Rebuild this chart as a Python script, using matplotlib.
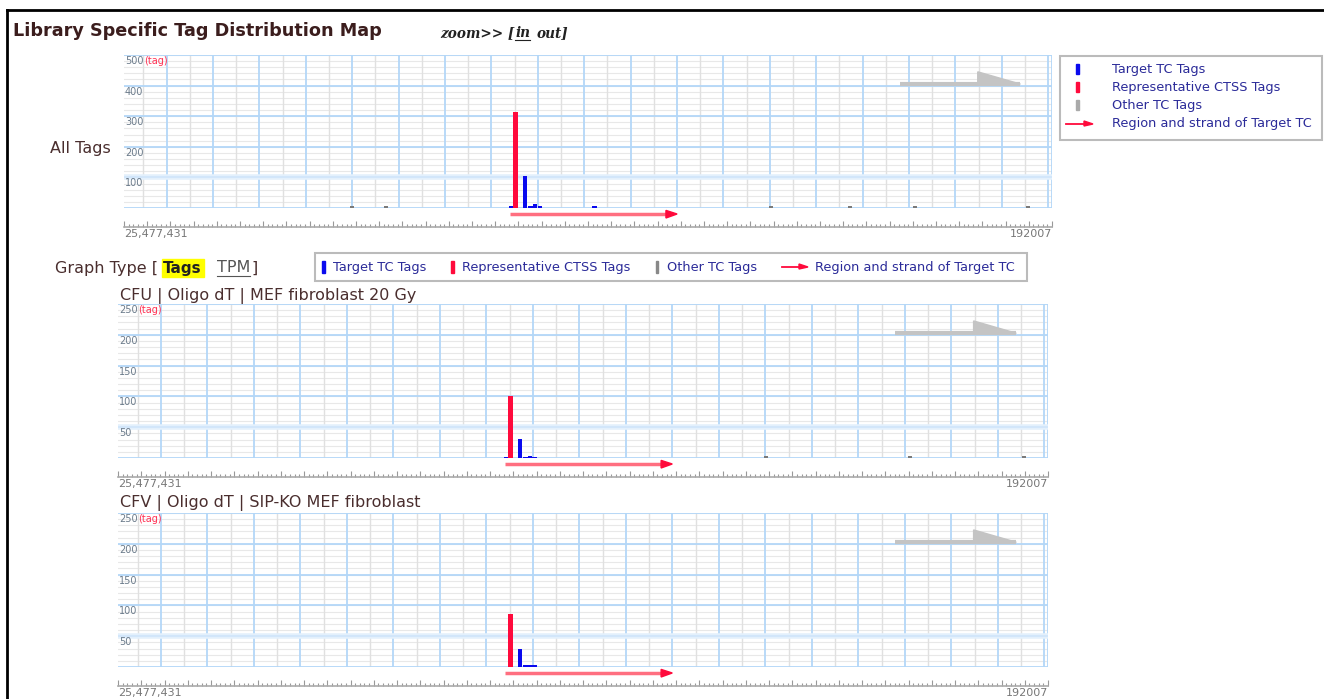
import matplotlib
matplotlib.use("Agg")
import matplotlib.pyplot as plt
from matplotlib.patches import Rectangle, Polygon
from matplotlib.ticker import MultipleLocator, NullFormatter

# ---------------- data ----------------
panel_titles = ["All Tags",
                "CFU | Oligo dT | MEF fibroblast 20 Gy",
                "CFV | Oligo dT | SIP-KO MEF fibroblast"]
y_max = [500, 250, 250]
y_tick_step = [100, 50, 50]
y_minor_step = [20, 10, 10]

# positions on the relative genomic scale (0 .. 1000)
rep_pos = [422]
rep_all = [315]
rep_cfu = [100]
rep_cfv = [86]

target_pos = [417, 432, 438, 443, 448, 507]
target_all = [5, 105, 6, 13, 5, 6]
target_cfu = [2, 31, 2, 3, 2, 0]
target_cfv = [0, 29, 3, 3, 3, 0]

other_pos = [246, 282, 697, 782, 852, 974]
other_all = [5, 5, 5, 5, 5, 5]
other_cfu = [0, 0, 3, 0, 3, 3]
other_cfv = [0, 0, 0, 0, 0, 0]

region_start, region_end = 416, 596
x_start_label = "25,477,431"
x_end_label = "192007"

legend_labels = ["Target TC Tags", "Representative CTSS Tags",
                 "Other TC Tags", "Region and strand of Target TC"]

rep_vals = [rep_all, rep_cfu, rep_cfv]
target_vals = [target_all, target_cfu, target_cfv]
other_vals = [other_all, other_cfu, other_cfv]

# ---------------- style ----------------
W, H = 1324, 699
RED = "#ff0a3c"
BLUE = "#0a0aee"
GRAY = "#7a7a7a"
GRID_BLUE = "#b3d7f8"
GRID_GRAY = "#e8e8e8"
TXT = "#4a2e2e"
LEG_TXT = "#2b2b99"

fig = plt.figure(figsize=(W / 100, H / 100), dpi=100)
fig.patch.set_facecolor("white")

overlay = fig.add_axes([0, 0, 1, 1])
overlay.set_xlim(0, W)
overlay.set_ylim(H, 0)
overlay.axis("off")
overlay.patch.set_visible(False)
renderer = fig.canvas.get_renderer()


def px_axes(x0, y0, x1, y1):
    return fig.add_axes([x0 / W, 1 - y1 / H, (x1 - x0) / W, (y1 - y0) / H])


def text_width(t):
    bb = t.get_window_extent(renderer=renderer)
    return bb.width


# panel extents in pixels (left, top, right, bottom)
extents = [(124, 55, 1052, 208), (118, 304, 1048, 458), (118, 513, 1048, 667)]

for i, (x0, y0, x1, y1) in enumerate(extents):
    ax = px_axes(x0, y0, x1, y1)
    ym = y_max[i]
    ax.set_xlim(0, 1000)
    ax.set_ylim(0, ym)
    ax.set_facecolor("white")
    for s in ["left", "top", "right"]:
        ax.spines[s].set_visible(False)
    # grid
    v = 0
    while v <= ym:
        ax.axhline(v, color=GRID_GRAY, lw=0.8, zorder=0)
        v += y_minor_step[i]
    for gx in range(21, 1000, 50):
        ax.axvline(gx, color="#e0e0e0", lw=1.0, zorder=0.5)
    for gx in range(46, 1000, 50):
        ax.axvline(gx, color=GRID_BLUE, lw=1.3, zorder=0.6)
    ax.axvline(1000, color=GRID_BLUE, lw=1.3, zorder=0.6)
    for gy in range(0, ym + 1, y_tick_step[i]):
        if gy == y_tick_step[i]:
            ax.axhline(gy, color="#e3f0fc", lw=4.0, zorder=0.6)
            ax.axhline(gy, color="#cfe5fa", lw=1.2, zorder=0.7)
        else:
            ax.axhline(gy, color=GRID_BLUE, lw=1.3, zorder=0.7)
    # y labels
    for gy in range(y_tick_step[i], ym + 1, y_tick_step[i]):
        ax.annotate(str(gy), xy=(0, gy), xycoords=("axes fraction", "data"),
                    xytext=(1, -1), textcoords="offset pixels",
                    ha="left", va="top", fontsize=7, color="#6a7a8a", zorder=3)
    ax.annotate("(tag)", xy=(0, ym), xycoords=("axes fraction", "data"),
                xytext=(20, -1), textcoords="offset pixels",
                ha="left", va="top", fontsize=7, color="#ff3355", zorder=3)
    # bars
    ax.bar(other_pos, other_vals[i], width=4.5, color=GRAY, zorder=2)
    ax.bar(target_pos, target_vals[i], width=4.8, color=BLUE, zorder=2)
    ax.bar(rep_pos, rep_vals[i], width=4.8, color=RED, zorder=2.5)
    # region arrow below baseline
    yoff = -ym * 6 / (y1 - y0)
    ax.plot([region_start, region_end - 8], [yoff, yoff], color="#ff6f80",
            lw=2.5, solid_capstyle="butt", clip_on=False, zorder=3)
    ah = ym * 4 / (y1 - y0)
    ax.add_patch(Polygon([[region_end - 12, yoff - ah], [region_end - 12, yoff + ah * 0.9],
                          [region_end, yoff]], closed=True, color=RED,
                         clip_on=False, zorder=3))
    # gray strand arrow (upper right)
    ly = ym * 0.81
    ty = ym * 0.89
    ax.plot([836, 966], [ly, ly], color="#c4c4c4", lw=3, solid_capstyle="butt", zorder=2)
    ax.add_patch(Polygon([[920, ly], [920, ty], [966, ly]], closed=True,
                         color="#c4c4c4", zorder=2))
    # ruler
    ax.spines["bottom"].set_position(("outward", 14))
    ax.spines["bottom"].set_color("#aaaaaa")
    ax.spines["bottom"].set_linewidth(1.2)
    ax.xaxis.set_major_locator(MultipleLocator(25))
    ax.xaxis.set_minor_locator(MultipleLocator(5))
    ax.xaxis.set_major_formatter(NullFormatter())
    ax.tick_params(axis="x", which="major", direction="in", length=4, color="#999999", width=0.8)
    ax.tick_params(axis="x", which="minor", direction="in", length=2, color="#999999", width=0.8)
    ax.set_yticks([])
    ax.annotate(x_start_label, xy=(0, 0), xycoords="axes fraction",
                xytext=(0, -21), textcoords="offset pixels",
                ha="left", va="top", fontsize=8, color="#777777")
    ax.annotate(x_end_label, xy=(1, 0), xycoords="axes fraction",
                xytext=(0, -21), textcoords="offset pixels",
                ha="right", va="top", fontsize=8, color="#777777")

# ---------------- page texts ----------------
overlay.plot([7, 7], [H + 5, 10], color="black", lw=2)
overlay.plot([7, W + 5], [10, 10], color="black", lw=2)

overlay.text(13, 31, "Library Specific Tag Distribution Map", fontsize=12.7,
             fontweight="bold", color="#3b1d1d", va="center", ha="left")

zkw = dict(fontsize=9.8, fontweight="bold", style="italic", family="DejaVu Serif",
           color="#222222", va="center", ha="left")
t = overlay.text(440, 33, "zoom>> [", **zkw)
xx = 440 + text_width(t) + 1
t = overlay.text(xx, 33, "in", **zkw)
w_in = text_width(t)
overlay.plot([xx, xx + w_in], [40, 40], color="#222222", lw=0.8)
overlay.text(xx + w_in + 6, 33, "out]", **zkw)

overlay.text(50, 148, panel_titles[0], fontsize=11.5, color=TXT, va="center", ha="left")
overlay.text(120, 296, panel_titles[1], fontsize=11.5, color=TXT, va="center", ha="left")
overlay.text(120, 503, panel_titles[2], fontsize=11.5, color=TXT, va="center", ha="left")

t = overlay.text(55, 268, "Graph Type [", fontsize=11.5, color=TXT, va="center", ha="left")
xx = 55 + text_width(t) + 4
t = overlay.text(xx + 1, 268, "Tags", fontsize=11, fontweight="bold", color="#222222",
                 va="center", ha="left", zorder=2)
wt = text_width(t)
overlay.add_patch(Rectangle((xx, 259), wt + 3, 18, color="#ffff00", zorder=1))
xx = xx + wt + 16
t = overlay.text(xx, 268, "TPM", fontsize=11.5, color="#555555", va="center", ha="left")
wt = text_width(t)
overlay.plot([xx, xx + wt], [276, 276], color="#555555", lw=0.8)
overlay.text(xx + wt + 1, 268, "]", fontsize=11.5, color=TXT, va="center", ha="left")

LFS = 9.3
# legend box 1 (vertical)
overlay.add_patch(Rectangle((1060, 56), 262, 84, fill=False, edgecolor="#bbbbbb", lw=1.5))
rows = [69, 87, 105, 124]
for c, ry in zip([BLUE, RED, "#aaaaaa"], rows[:3]):
    overlay.add_patch(Rectangle((1076, ry - 5), 3, 10, color=c))
overlay.plot([1066, 1086], [rows[3], rows[3]], color=RED, lw=1.3)
overlay.add_patch(Polygon([[1084, rows[3] - 3], [1084, rows[3] + 2], [1093, rows[3]]], color=RED))
for lbl, ry in zip(legend_labels, rows):
    overlay.text(1112, ry, lbl, fontsize=LFS, color=LEG_TXT, va="center", ha="left")

# legend box 2 (horizontal)
overlay.add_patch(Rectangle((315, 253), 712, 28, fill=False, edgecolor="#bbbbbb", lw=1.5))
ly2 = 267
overlay.add_patch(Rectangle((322, ly2 - 6), 3, 12, color=BLUE))
overlay.text(333, ly2, legend_labels[0], fontsize=LFS, color=LEG_TXT, va="center", ha="left")
overlay.add_patch(Rectangle((451, ly2 - 6), 3, 12, color=RED))
overlay.text(462, ly2, legend_labels[1], fontsize=LFS, color=LEG_TXT, va="center", ha="left")
overlay.add_patch(Rectangle((656, ly2 - 6), 2, 12, color="#888888"))
overlay.text(667, ly2, legend_labels[2], fontsize=LFS, color=LEG_TXT, va="center", ha="left")
overlay.plot([782, 801], [ly2, ly2], color=RED, lw=1.3)
overlay.add_patch(Polygon([[799, ly2 - 3], [799, ly2 + 2], [808, ly2]], color=RED))
overlay.text(815, ly2, legend_labels[3], fontsize=LFS, color=LEG_TXT, va="center", ha="left")

fig.savefig("out.png", dpi=100)
